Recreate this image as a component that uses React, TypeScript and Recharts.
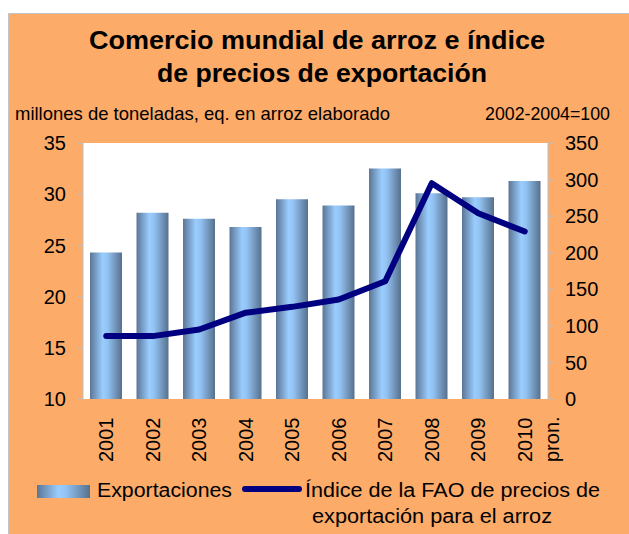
import React from "react";
import { ComposedChart, Bar, Line, XAxis, YAxis, CartesianGrid } from "recharts";

const years = ["2001", "2002", "2003", "2004", "2005", "2006", "2007", "2008", "2009", "2010\npron."];
const exports = [24.3, 28.2, 27.6, 26.8, 29.5, 28.9, 32.5, 30.1, 29.7, 31.3];
const priceIndex = [86, 86, 95, 118, 126, 136, 161, 295, 254, 229];
const leftTicks = [10, 15, 20, 25, 30, 35];
const rightTicks = [0, 50, 100, 150, 200, 250, 300, 350];

const data = years.map((year, i) => ({ year, exports: exports[i], index: priceIndex[i] }));

const FONT = "'Liberation Sans', Arial, sans-serif";
const ORANGE = "#fcab69";
const NAVY = "#000080";

const YearTick = (props: any) => {
    const { x, y, payload } = props;
    const lines = String(payload.value).split("\n");
    return (
        <g transform={`translate(${x},${y + 55})`}>
            {lines.map((line, i) => (
                <text
                    key={i}
                    transform="rotate(-90)"
                    x={0}
                    y={0}
                    dy={`${0.35 + i * 1.35}em`}
                    textAnchor="start"
                    fontFamily={FONT}
                    fontSize={20}
                    fill="#000"
                >
                    {line}
                </text>
            ))}
        </g>
    );
};

export default function App() {
    const tickStyle = { fontFamily: FONT, fontSize: 20, fill: "#000" };
    return (
        <div style={{ position: "absolute", left: 0, top: 0, width: 629, height: 534, background: "#fff", overflow: "hidden" }}>
            <div
                style={{
                    position: "absolute",
                    left: 8,
                    top: 13,
                    width: 630,
                    height: 530,
                    background: ORANGE,
                    borderLeft: "1px solid #c4c4c4",
                    borderTop: "1px solid #c4c4c4",
                }}
            />
            <svg width={629} height={534} style={{ position: "absolute", left: 0, top: 0 }}>
                <defs>
                    <linearGradient id="barGrad" x1="0" y1="0" x2="1" y2="0">
                        <stop offset="0%" stopColor="#5b7595" />
                        <stop offset="40%" stopColor="#9acdff" />
                        <stop offset="55%" stopColor="#92c2f2" />
                        <stop offset="100%" stopColor="#57708d" />
                    </linearGradient>
                </defs>
                <g fontFamily={FONT} fill="#000">
                    <text x={89} y={49} fontSize={25} fontWeight="bold" textLength={456} lengthAdjust="spacingAndGlyphs">
                        Comercio mundial de arroz e índice
                    </text>
                    <text x={157} y={82} fontSize={25} fontWeight="bold" textLength={330} lengthAdjust="spacingAndGlyphs">
                        de precios de exportación
                    </text>
                    <text x={15} y={120} fontSize={19} textLength={375} lengthAdjust="spacingAndGlyphs">
                        millones de toneladas, eq. en arroz elaborado
                    </text>
                    <text x={485} y={120} fontSize={19} textLength={125} lengthAdjust="spacingAndGlyphs">
                        2002-2004=100
                    </text>
                </g>
                <rect x={37} y={485} width={53} height={13} fill="url(#barGrad)" />
                <line x1={245} y1={489} x2={299} y2={489} stroke={NAVY} strokeWidth={6} strokeLinecap="round" />
                <g fontFamily={FONT} fill="#000" fontSize={20}>
                    <text x={97} y={497} textLength={135} lengthAdjust="spacingAndGlyphs">Exportaciones</text>
                    <text x={305} y={497} textLength={295} lengthAdjust="spacingAndGlyphs">Índice de la FAO de precios de</text>
                    <text x={312} y={523} textLength={240} lengthAdjust="spacingAndGlyphs">exportación para el arroz</text>
                </g>
            </svg>
            <div style={{ position: "absolute", left: 0, top: 0 }}>
                <ComposedChart
                    width={629}
                    height={534}
                    data={data}
                    margin={{ top: 143, right: 21, bottom: 55, left: 10 }}
                    barCategoryGap="31%"
                >
                    <CartesianGrid fill="#fff" horizontal={false} vertical={false} />
                    <XAxis
                        dataKey="year"
                        height={80}
                        axisLine={false}
                        tickLine={false}
                        interval={0}
                        tick={<YearTick />}
                    />
                    <YAxis
                        yAxisId="left"
                        orientation="left"
                        width={73}
                        domain={[10, 35]}
                        ticks={leftTicks}
                        interval={0}
                        stroke="#bfbfbf"
                        tickSize={6}
                        tickMargin={11}
                        tick={tickStyle}
                    />
                    <YAxis
                        yAxisId="right"
                        orientation="right"
                        width={60}
                        domain={[0, 350]}
                        ticks={rightTicks}
                        interval={0}
                        stroke="#bfbfbf"
                        tickSize={6}
                        tickMargin={11}
                        tick={tickStyle}
                    />
                    <Bar yAxisId="left" dataKey="exports" fill="url(#barGrad)" barSize={32} isAnimationActive={false} />
                    <Line
                        yAxisId="right"
                        dataKey="index"
                        type="linear"
                        stroke={NAVY}
                        strokeWidth={6}
                        strokeLinecap="round"
                        strokeLinejoin="round"
                        dot={false}
                        activeDot={false}
                        isAnimationActive={false}
                    />
                </ComposedChart>
            </div>
        </div>
    );
}
